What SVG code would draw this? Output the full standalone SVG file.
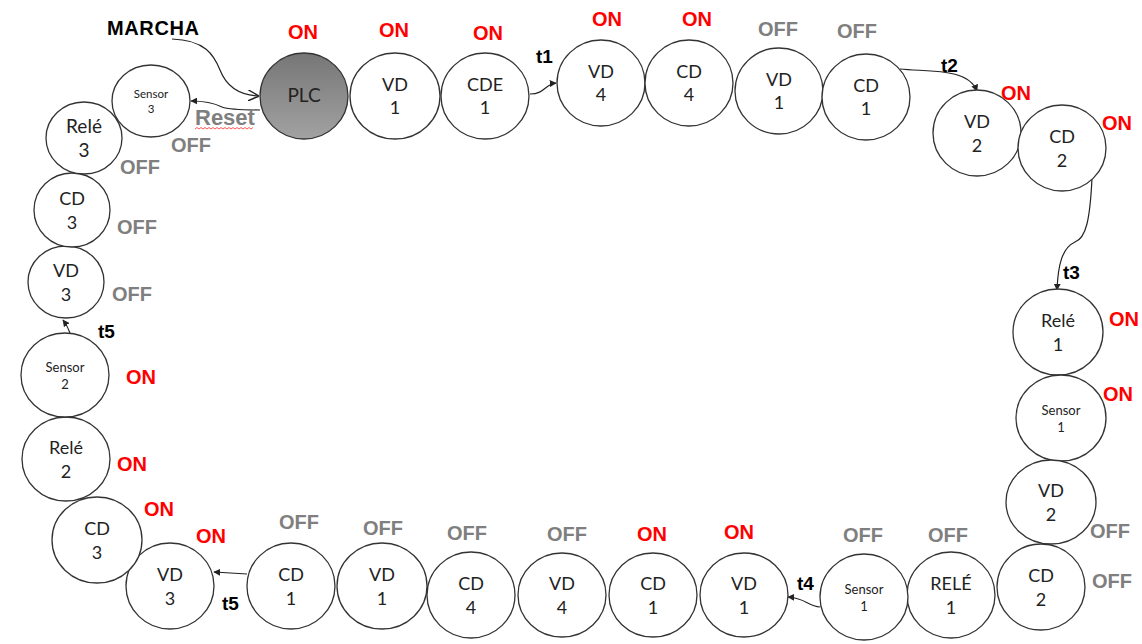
<svg xmlns="http://www.w3.org/2000/svg" width="1142" height="644" viewBox="0 0 1142 644">
  <defs>
    <linearGradient id="plcFill" x1="0" y1="0" x2="0" y2="1">
      <stop offset="0" stop-color="#767676"/>
      <stop offset="1" stop-color="#a2a2a2"/>
    </linearGradient>
    <marker id="tip" viewBox="0 0 10 10" refX="9" refY="5" markerWidth="7" markerHeight="7" markerUnits="userSpaceOnUse" orient="auto">
      <path d="M0,0 L10,5 L0,10 Z" fill="#222"/>
    </marker>
    <marker id="chevron" viewBox="0 0 10 10" refX="9" refY="5" markerWidth="11" markerHeight="11" markerUnits="userSpaceOnUse" orient="auto">
      <path d="M0,0 L10,5 L0,10" fill="none" stroke="#222" stroke-width="1.3"/>
    </marker>
    <style>
      .n { fill: #fff; stroke: #333; stroke-width: 1.3; }
      .lbl { font-family: Lato, "Noto Sans", sans-serif; font-size: 18px; fill: #222; text-anchor: middle; }
      .sm { font-family: Lato, "Noto Sans", sans-serif; font-size: 13px; fill: #222; text-anchor: middle; }
      .on { font-family: "Liberation Sans", Arial, sans-serif; font-weight: bold; font-size: 20px; fill: #ff0000; text-anchor: middle; }
      .off { font-family: "Liberation Sans", Arial, sans-serif; font-weight: bold; font-size: 20px; fill: #7f7f7f; text-anchor: middle; }
      .t { font-family: "Liberation Sans", Arial, sans-serif; font-weight: bold; font-size: 19px; fill: #000; }
      .c { fill: none; stroke: #222; stroke-width: 1.2; }
    </style>
  </defs>

  <!-- connectors -->
  <g id="connectors">
    <path class="c" d="M172,39 C205,40 214,55 220,70 C227,88 240,95 258,96" marker-end="url(#chevron)"/>
    <path class="c" d="M260,110 C245,110 230,110 222,107 C214,103 205,101 191,101" marker-end="url(#tip)"/>
    <path class="c" d="M530,94 C545,94 545,84 556,83" marker-end="url(#tip)"/>
    <path class="c" d="M900,69 C930,72 968,68 977,91" marker-end="url(#tip)"/>
    <path class="c" d="M1092,178 C1090,220 1086,238 1075,242 C1062,248 1058,265 1057,290" marker-end="url(#tip)"/>
    <path class="c" d="M820,607 C808,606 805,598 788,597" marker-end="url(#tip)"/>
    <path class="c" d="M247,574 L214,572" marker-end="url(#tip)"/>
    <path class="c" d="M70,333 C68,327 66,324 63,320" marker-end="url(#tip)"/>
  </g>

  <!-- start / reset labels -->
  <text class="t" x="107" y="35" style="font-size:20px" textLength="92">MARCHA</text>
  <text x="195" y="125" style="font-family:'Liberation Sans',Arial,sans-serif;font-weight:bold;font-size:22px;fill:#7f7f7f">Reset</text>
  <polyline points="195,129 197,127.5 199,129 201,127.5 203,129 205,127.5 207,129 209,127.5 211,129 213,127.5 215,129 217,127.5 219,129 221,127.5 223,129 225,127.5 227,129 229,127.5 231,129 233,127.5 235,129 237,127.5 239,129 241,127.5 243,129 245,127.5 247,129 249,127.5 251,129 253,127.5" fill="none" stroke="#ff3030" stroke-width="0.8"/>

  <!-- timer labels -->
  <text class="t" x="536" y="63">t1</text>
  <text class="t" x="941" y="72">t2</text>
  <text class="t" x="1063" y="279">t3</text>
  <text class="t" x="797" y="590">t4</text>
  <text class="t" x="222" y="610">t5</text>
  <text class="t" x="98" y="338">t5</text>

  <!-- top row -->
  <g id="plc">
    <ellipse cx="304" cy="96" rx="44" ry="43" fill="url(#plcFill)" stroke="#333" stroke-width="1.3"/>
    <text class="lbl" x="304" y="102" style="font-size:19px">PLC</text>
    <text class="on" x="303" y="39">ON</text>
  </g>
  <g id="vd1-a">
    <ellipse class="n" cx="395" cy="96" rx="45" ry="43"/>
    <text class="lbl" x="395" y="91">VD</text><text class="lbl" x="395" y="114">1</text>
    <text class="on" x="394" y="37">ON</text>
  </g>
  <g id="cde1">
    <ellipse class="n" cx="485" cy="96" rx="44" ry="43"/>
    <text class="lbl" x="485" y="91">CDE</text><text class="lbl" x="485" y="114">1</text>
    <text class="on" x="488" y="40">ON</text>
  </g>
  <g id="vd4-a">
    <ellipse class="n" cx="601" cy="83" rx="44" ry="43"/>
    <text class="lbl" x="601" y="78">VD</text><text class="lbl" x="601" y="101">4</text>
    <text class="on" x="607" y="26">ON</text>
  </g>
  <g id="cd4-a">
    <ellipse class="n" cx="689" cy="83" rx="44" ry="43"/>
    <text class="lbl" x="689" y="78">CD</text><text class="lbl" x="689" y="101">4</text>
    <text class="on" x="697" y="26">ON</text>
  </g>
  <g id="vd1-b">
    <ellipse class="n" cx="779" cy="91" rx="44" ry="43"/>
    <text class="lbl" x="779" y="86">VD</text><text class="lbl" x="779" y="109">1</text>
    <text class="off" x="778" y="36">OFF</text>
  </g>
  <g id="cd1-a">
    <ellipse class="n" cx="866" cy="97" rx="44" ry="43"/>
    <text class="lbl" x="866" y="92">CD</text><text class="lbl" x="866" y="115">1</text>
    <text class="off" x="857" y="38">OFF</text>
  </g>
  <g id="vd2-a">
    <ellipse class="n" cx="977" cy="133" rx="44" ry="43"/>
    <text class="lbl" x="977" y="128">VD</text><text class="lbl" x="977" y="152">2</text>
    <text class="on" x="1016" y="100">ON</text>
  </g>
  <g id="cd2-a">
    <ellipse class="n" cx="1062" cy="148" rx="44" ry="43"/>
    <text class="lbl" x="1062" y="143">CD</text><text class="lbl" x="1062" y="167">2</text>
    <text class="on" x="1117" y="130">ON</text>
  </g>

  <!-- right column -->
  <g id="rele1-a">
    <ellipse class="n" cx="1058" cy="332" rx="45" ry="43"/>
    <text class="lbl" x="1058" y="327">Relé</text><text class="lbl" x="1058" y="351">1</text>
    <text class="on" x="1124" y="326">ON</text>
  </g>
  <g id="sensor1-a">
    <ellipse class="n" cx="1061" cy="418" rx="45" ry="43"/>
    <text class="sm" x="1061" y="415">Sensor</text><text class="sm" x="1061" y="432">1</text>
    <text class="on" x="1118" y="401">ON</text>
  </g>
  <g id="vd2-b">
    <ellipse class="n" cx="1051" cy="502" rx="45" ry="42"/>
    <text class="lbl" x="1051" y="497">VD</text><text class="lbl" x="1051" y="521">2</text>
    <text class="off" x="1110" y="538">OFF</text>
  </g>
  <g id="cd2-b">
    <ellipse class="n" cx="1041" cy="587" rx="44" ry="43"/>
    <text class="lbl" x="1041" y="582">CD</text><text class="lbl" x="1041" y="606">2</text>
    <text class="off" x="1112" y="588">OFF</text>
  </g>

  <!-- bottom row -->
  <g id="rele1-b">
    <ellipse class="n" cx="951" cy="595" rx="44" ry="43"/>
    <text class="lbl" x="951" y="590">RELÉ</text><text class="lbl" x="951" y="614">1</text>
    <text class="off" x="948" y="542">OFF</text>
  </g>
  <g id="sensor1-b">
    <ellipse class="n" cx="864" cy="597" rx="44" ry="43"/>
    <text class="sm" x="864" y="594">Sensor</text><text class="sm" x="864" y="611">1</text>
    <text class="off" x="863" y="542">OFF</text>
  </g>
  <g id="vd1-c">
    <ellipse class="n" cx="744" cy="595" rx="44" ry="42"/>
    <text class="lbl" x="744" y="590">VD</text><text class="lbl" x="744" y="614">1</text>
    <text class="on" x="739" y="539">ON</text>
  </g>
  <g id="cd1-b">
    <ellipse class="n" cx="653" cy="595" rx="44" ry="42"/>
    <text class="lbl" x="653" y="590">CD</text><text class="lbl" x="653" y="614">1</text>
    <text class="on" x="652" y="541">ON</text>
  </g>
  <g id="vd4-b">
    <ellipse class="n" cx="562" cy="595" rx="44" ry="42"/>
    <text class="lbl" x="562" y="590">VD</text><text class="lbl" x="562" y="614">4</text>
    <text class="off" x="567" y="541">OFF</text>
  </g>
  <g id="cd4-b">
    <ellipse class="n" cx="471" cy="595" rx="44" ry="43"/>
    <text class="lbl" x="471" y="590">CD</text><text class="lbl" x="471" y="614">4</text>
    <text class="off" x="467" y="540">OFF</text>
  </g>
  <g id="vd1-d">
    <ellipse class="n" cx="382" cy="586" rx="45" ry="43"/>
    <text class="lbl" x="382" y="581">VD</text><text class="lbl" x="382" y="605">1</text>
    <text class="off" x="383" y="535">OFF</text>
  </g>
  <g id="cd1-c">
    <ellipse class="n" cx="291" cy="586" rx="44" ry="43"/>
    <text class="lbl" x="291" y="581">CD</text><text class="lbl" x="291" y="605">1</text>
    <text class="off" x="299" y="529">OFF</text>
  </g>
  <g id="vd3-a">
    <ellipse class="n" cx="170" cy="586" rx="44" ry="43"/>
    <text class="lbl" x="170" y="581">VD</text><text class="lbl" x="170" y="605">3</text>
    <text class="on" x="211" y="543">ON</text>
  </g>

  <!-- left column -->
  <g id="cd3-a">
    <ellipse class="n" cx="97" cy="540" rx="45" ry="43"/>
    <text class="lbl" x="97" y="535">CD</text><text class="lbl" x="97" y="559">3</text>
    <text class="on" x="159" y="516">ON</text>
  </g>
  <g id="rele2">
    <ellipse class="n" cx="66" cy="459" rx="44" ry="42"/>
    <text class="lbl" x="66" y="454">Relé</text><text class="lbl" x="66" y="478">2</text>
    <text class="on" x="132" y="471">ON</text>
  </g>
  <g id="sensor2">
    <ellipse class="n" cx="65" cy="375" rx="44" ry="42"/>
    <text class="sm" x="65" y="372">Sensor</text><text class="sm" x="65" y="389">2</text>
    <text class="on" x="141" y="384">ON</text>
  </g>
  <g id="vd3-b">
    <ellipse class="n" cx="66" cy="282" rx="38" ry="36"/>
    <text class="lbl" x="66" y="277">VD</text><text class="lbl" x="66" y="301">3</text>
    <text class="off" x="132" y="301">OFF</text>
  </g>
  <g id="cd3-b">
    <ellipse class="n" cx="72" cy="210" rx="38" ry="37"/>
    <text class="lbl" x="72" y="205">CD</text><text class="lbl" x="72" y="229">3</text>
    <text class="off" x="137" y="234">OFF</text>
  </g>
  <g id="rele3">
    <ellipse class="n" cx="84" cy="138" rx="38" ry="36"/>
    <text class="lbl" x="84" y="133" style="font-size:19px">Relé</text><text class="lbl" x="84" y="157" style="font-size:19px">3</text>
    <text class="off" x="140" y="174">OFF</text>
  </g>
  <g id="sensor3">
    <ellipse class="n" cx="151" cy="101" rx="39" ry="36"/>
    <text class="sm" x="151" y="98" style="font-size:11.5px">Sensor</text><text class="sm" x="151" y="113" style="font-size:11.5px">3</text>
    <text class="off" x="191" y="152">OFF</text>
  </g>
</svg>
